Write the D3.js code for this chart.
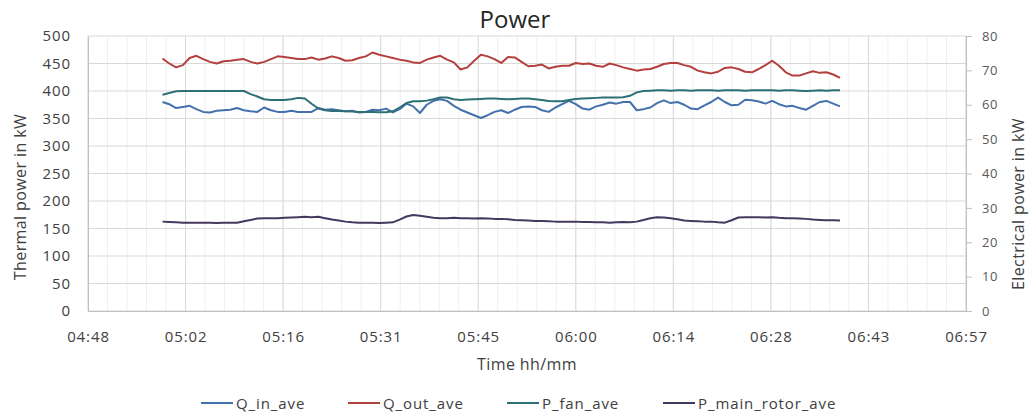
<!DOCTYPE html>
<html>
<head>
<meta charset="utf-8">
<script src="https://cdn.jsdelivr.net/npm/d3@7/dist/d3.min.js"></script>
<style>
  body { margin: 0; background: #fff; }
  text { font-family: "Open Sans", sans-serif; }
</style>
</head>
<body>
<svg id="chart"></svg>
<script>
(function() {

// time stamps, one per minute
const times = [
  "04:59","05:00","05:01","05:02","05:03","05:04","05:05","05:06","05:07","05:08",
  "05:09","05:10","05:11","05:12","05:13","05:14","05:15","05:16","05:17","05:18",
  "05:19","05:20","05:21","05:22","05:23","05:24","05:25","05:26","05:27","05:28",
  "05:29","05:30","05:31","05:32","05:33","05:34","05:35","05:36","05:37","05:38",
  "05:39","05:40","05:41","05:42","05:43","05:44","05:45","05:46","05:47","05:48",
  "05:49","05:50","05:51","05:52","05:53","05:54","05:55","05:56","05:57","05:58",
  "05:59","06:00","06:01","06:02","06:03","06:04","06:05","06:06","06:07","06:08",
  "06:09","06:10","06:11","06:12","06:13","06:14","06:15","06:16","06:17","06:18",
  "06:19","06:20","06:21","06:22","06:23","06:24","06:25","06:26","06:27","06:28",
  "06:29","06:30","06:31","06:32","06:33","06:34","06:35","06:36","06:37","06:38",
  "06:39"
];

// thermal power, kW (left axis)
const qIn = [
  380,376,369,371,373,367,362,361,364,365,
  366,369,365,363,362,370,365,362,362,364,
  362,362,362,369,366,367,365,363,364,361,
  362,366,365,368,361,367,377,372,360,375,
  382,385,382,373,366,361,356,351,356,362,
  365,360,366,371,372,371,365,362,370,376,
  382,376,368,366,372,375,379,377,380,380,
  365,367,370,378,383,378,380,375,368,367,
  374,380,388,380,374,375,384,383,381,377,
  382,376,372,373,369,366,373,380,382,377,
  372
];
const qOut = [
  459,450,443,447,460,464,458,453,450,454,
  455,457,458,453,450,453,458,463,462,460,
  458,458,461,457,459,463,460,455,456,460,
  463,470,466,463,460,457,455,452,451,457,
  461,464,457,452,439,443,455,466,463,458,
  451,462,461,453,445,446,448,441,444,446,
  446,451,449,450,446,444,450,447,443,440,
  437,439,440,444,449,451,451,447,444,437,
  434,432,435,442,443,440,435,434,440,447,
  455,446,434,428,428,432,436,433,434,430,
  424
];

// electrical power, kW (right axis)
const pFan = [
  62.9,63.4,63.9,64.0,64.0,64.0,64.0,64.0,64.0,64.0,
  64.0,64.0,64.0,63.1,62.4,61.6,61.4,61.4,61.4,61.6,
  62.0,61.8,60.3,58.9,58.4,58.2,58.2,58.1,58.0,57.9,
  57.9,57.9,57.8,57.8,58.1,59.2,60.5,61.0,61.0,61.2,
  61.6,62.1,62.1,61.6,61.4,61.5,61.6,61.7,61.8,61.8,
  61.7,61.6,61.7,61.8,61.8,61.6,61.4,61.1,61.0,61.0,
  61.4,61.7,61.8,61.9,62.0,62.1,62.1,62.1,62.2,62.6,
  63.6,64.0,64.1,64.2,64.2,64.1,64.2,64.2,64.1,64.2,
  64.2,64.2,64.1,64.2,64.2,64.2,64.1,64.2,64.2,64.2,
  64.2,64.1,64.2,64.2,64.1,64.0,64.1,64.2,64.1,64.2,
  64.2
];
const pMainRotor = [
  26.0,25.9,25.8,25.7,25.7,25.7,25.7,25.7,25.6,25.7,
  25.7,25.7,26.1,26.5,26.9,27.0,27.0,27.0,27.1,27.2,
  27.3,27.4,27.3,27.4,27.0,26.6,26.3,26.0,25.8,25.7,
  25.7,25.7,25.6,25.7,25.8,26.6,27.5,27.9,27.7,27.4,
  27.1,27.0,27.0,27.1,27.0,27.0,26.9,27.0,26.9,26.8,
  26.8,26.7,26.5,26.4,26.3,26.2,26.2,26.1,26.0,26.0,
  26.0,26.0,25.9,25.9,25.8,25.8,25.7,25.8,25.9,25.8,
  26.0,26.5,27.0,27.3,27.2,27.0,26.7,26.3,26.2,26.1,
  26.0,26.0,25.8,25.7,26.4,27.2,27.3,27.3,27.3,27.2,
  27.3,27.1,27.0,27.0,26.9,26.8,26.6,26.5,26.4,26.4,
  26.3
];

// axis ticks (x in fractions of a day, as Excel stores time)
const xTickDays = [0.20, 0.21, 0.22, 0.23, 0.24, 0.25, 0.26, 0.27, 0.28, 0.29];
const xTickLabels = ["04:48","05:02","05:16","05:31","05:45","06:00","06:14","06:28","06:43","06:57"];
const yLeftTicks = [0, 50, 100, 150, 200, 250, 300, 350, 400, 450, 500];
const yRightTicks = [0, 10, 20, 30, 40, 50, 60, 70, 80];

const seriesNames = ["Q_in_ave", "Q_out_ave", "P_fan_ave", "P_main_rotor_ave"];
const seriesColors = ["#4471ad", "#b3403d", "#2d6f73", "#45385f"];


const W = 1030, H = 417;
const margin = { top: 36, right: 64, bottom: 106, left: 88 };
const width = W - margin.left - margin.right;
const height = H - margin.top - margin.bottom;

const svg = d3.select("#chart")
    .attr("width", W)
    .attr("height", H);

const g = svg.append("g")
    .attr("transform", `translate(${margin.left},${margin.top})`);

const parseTime = s => {
    const [h, m] = s.split(":").map(Number);
    return (h * 60 + m) / 1440;
};

const x = d3.scaleLinear().domain([0.20, 0.29]).range([0, width]);
const yL = d3.scaleLinear().domain([0, 500]).range([height, 0]);
const yR = d3.scaleLinear().domain([0, 80]).range([height, 0]);

// minor vertical grid (5 per major)
const minorTicks = d3.range(0, 46).map(i => 0.20 + i * 0.002);
g.append("g").selectAll("line")
    .data(minorTicks)
    .join("line")
    .attr("x1", d => x(d)).attr("x2", d => x(d))
    .attr("y1", 0).attr("y2", height)
    .attr("stroke", "#efefef")
    .attr("stroke-width", 1);

// major vertical grid
g.append("g").selectAll("line")
    .data(xTickDays)
    .join("line")
    .attr("x1", d => x(d)).attr("x2", d => x(d))
    .attr("y1", 0).attr("y2", height)
    .attr("stroke", "#d9d9d9")
    .attr("stroke-width", 1);

// horizontal grid
g.append("g").selectAll("line")
    .data(yLeftTicks)
    .join("line")
    .attr("x1", 0).attr("x2", width)
    .attr("y1", d => yL(d)).attr("y2", d => yL(d))
    .attr("stroke", "#d9d9d9")
    .attr("stroke-width", 1);

// left axis
const axL = g.append("g")
    .call(d3.axisLeft(yL).tickValues(yLeftTicks).tickSize(0).tickPadding(17));
axL.select(".domain").attr("stroke", "#bfbfbf");
axL.selectAll("text")
    .attr("font-size", 15).attr("fill", "#404040")
    .style("letter-spacing", "0.9px");

// bottom axis
const axB = g.append("g")
    .attr("transform", `translate(0,${height})`)
    .call(d3.axisBottom(x).tickValues(xTickDays).tickSize(0).tickPadding(20)
        .tickFormat((d, i) => xTickLabels[i]));
axB.select(".domain").attr("stroke", "#bfbfbf");
axB.selectAll("text")
    .attr("font-size", 15).attr("fill", "#404040")
    .style("letter-spacing", "0.9px");

// right axis
const axR = g.append("g")
    .attr("transform", `translate(${width},0)`)
    .call(d3.axisRight(yR).tickValues(yRightTicks).tickSize(6).tickSizeOuter(0).tickPadding(10));
axR.select(".domain").attr("stroke", "#bfbfbf");
axR.selectAll("line").attr("stroke", "#bfbfbf");
axR.selectAll("text")
    .attr("font-size", 13).attr("fill", "#595959")
    .style("letter-spacing", "0.6px");

// series
const tDays = times.map(parseTime);
const lineL = d3.line().x((d, i) => x(tDays[i])).y(d => yL(d));
const lineR = d3.line().x((d, i) => x(tDays[i])).y(d => yR(d));

const series = [
    { values: qIn, line: lineL },
    { values: qOut, line: lineL },
    { values: pFan, line: lineR },
    { values: pMainRotor, line: lineR },
];

series.forEach((s, i) => {
    g.append("path")
        .datum(s.values)
        .attr("fill", "none")
        .attr("stroke", seriesColors[i])
        .attr("stroke-width", 2)
        .attr("stroke-linejoin", "round")
        .attr("d", s.line);
});

// titles
svg.append("text")
    .attr("x", 515).attr("y", 28)
    .attr("text-anchor", "middle")
    .attr("font-size", 24).attr("fill", "#262626")
    .text("Power");

svg.append("text")
    .attr("x", margin.left + width / 2).attr("y", 370)
    .attr("text-anchor", "middle")
    .attr("font-size", 16).attr("fill", "#404040")
    .style("letter-spacing", "0.4px")
    .text("Time hh/mm");

svg.append("text")
    .attr("transform", "translate(26,197) rotate(-90)")
    .attr("text-anchor", "middle")
    .attr("font-size", 16).attr("fill", "#404040")
    .style("letter-spacing", "0.4px")
    .text("Thermal power in kW");

svg.append("text")
    .attr("transform", "translate(1024,204) rotate(-90)")
    .attr("text-anchor", "middle")
    .attr("font-size", 16).attr("fill", "#404040")
    .style("letter-spacing", "0.4px")
    .text("Electrical power in kW");

// legend
const legendX = [201, 348, 507, 663];
const legend = svg.append("g");
seriesNames.forEach((name, i) => {
    legend.append("line")
        .attr("x1", legendX[i]).attr("x2", legendX[i] + 32)
        .attr("y1", 403).attr("y2", 403)
        .attr("stroke", seriesColors[i])
        .attr("stroke-width", 2);
    legend.append("text")
        .attr("x", legendX[i] + 35).attr("y", 408.5)
        .attr("font-size", 15).attr("fill", "#404040")
        .style("letter-spacing", "0.9px")
        .text(name);
});

})();
</script>
</body>
</html>
